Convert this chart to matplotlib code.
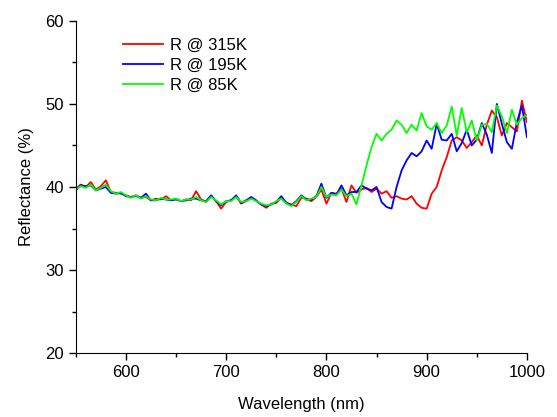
import matplotlib
matplotlib.use("Agg")
import matplotlib.pyplot as plt
from matplotlib.ticker import MultipleLocator
import numpy as np

plt.rcParams['font.family'] = ['Liberation Sans', 'DejaVu Sans']

# wavelength grid (nm), 5 nm steps
wavelength = np.arange(550, 1001, 5)

r_315k = [39.8, 40.3, 40.0, 40.6, 39.7, 40.1, 40.8, 39.4, 39.3, 39.2,
          39.0, 38.8, 39.0, 38.7, 38.8, 38.4, 38.6, 38.5, 38.9, 38.4,
          38.6, 38.3, 38.5, 38.4, 39.5, 38.5, 38.2, 38.9, 38.3, 37.4,
          38.2, 38.4, 38.9, 38.0, 38.3, 38.7, 38.3, 37.9, 37.5, 38.0,
          38.1, 38.7, 38.1, 37.9, 37.7, 38.7, 38.6, 38.3, 38.8, 39.7,
          38.0, 39.3, 39.2, 39.8, 38.2, 40.2, 39.3, 39.7, 39.9, 39.4,
          39.8, 39.2, 39.5, 38.7, 38.9, 38.6, 38.5, 38.9, 38.0, 37.5,
          37.4, 39.2, 40.0, 42.0, 43.6, 45.6, 46.0, 45.6, 44.7, 45.4,
          46.2, 45.0, 47.5, 49.2, 48.4, 46.2, 47.7, 47.2, 46.7, 50.4,
          47.8]

r_195k = [39.6, 40.2, 40.1, 40.2, 39.6, 39.8, 40.0, 39.3, 39.2, 39.3,
          38.9, 38.8, 38.9, 38.7, 39.2, 38.4, 38.4, 38.6, 38.5, 38.4,
          38.5, 38.3, 38.4, 38.6, 38.6, 38.4, 38.3, 39.0, 38.3, 37.8,
          38.3, 38.4, 39.0, 38.1, 38.4, 38.8, 38.4, 37.9, 37.7, 37.9,
          38.2, 38.9, 38.1, 37.8, 38.3, 39.0, 38.5, 38.5, 38.9, 40.4,
          38.7, 39.3, 39.1, 40.2, 39.0, 39.4, 39.4, 40.2, 39.8, 39.6,
          40.0, 38.2, 37.6, 37.4, 40.0, 42.0, 43.2, 44.1, 43.7, 44.3,
          45.6, 44.6, 47.6, 45.7, 45.6, 46.4, 44.3, 45.3, 46.9, 45.0,
          45.7, 47.7, 46.3, 44.1, 50.0, 47.6, 45.4, 44.6, 47.8, 49.8,
          46.0]

r_85k = [39.7, 40.1, 39.9, 40.3, 39.6, 39.9, 40.3, 39.5, 39.2, 39.4,
         39.0, 38.7, 39.0, 38.6, 38.9, 38.5, 38.4, 38.7, 38.5, 38.5,
         38.6, 38.3, 38.5, 38.5, 38.8, 38.4, 38.2, 38.8, 38.4, 37.9,
         38.3, 38.3, 38.8, 38.2, 38.3, 38.6, 38.3, 38.0, 37.8, 37.9,
         38.3, 38.6, 38.0, 37.7, 38.2, 38.9, 38.4, 38.6, 38.8, 40.0,
         38.8, 39.1, 39.0, 39.7, 38.9, 39.2, 37.9, 40.2, 42.6, 44.8,
         46.4, 45.6, 46.4, 46.9, 48.0, 47.5, 46.5, 47.5, 46.8, 48.9,
         47.3, 46.9, 47.7, 46.5, 47.4, 49.7, 46.2, 49.5, 46.6, 48.0,
         45.6, 47.5, 47.6, 46.6, 49.8, 48.5, 46.5, 49.3, 47.5, 48.3,
         48.7]

labels = ["R @ 315K", "R @ 195K", "R @ 85K"]
colors = ["#ff0000", "#0000ff", "#00ff00"]

fig = plt.figure(figsize=(5.57, 4.17), dpi=100)
ax = fig.add_axes([0.136, 0.153, 0.810, 0.797])

for series, lab, col in zip([r_315k, r_195k, r_85k], labels, colors):
    ax.plot(wavelength, series, color=col, lw=1.3, label=lab)

ax.set_xlim(550, 1000)
ax.set_ylim(20, 60)
ax.xaxis.set_major_locator(MultipleLocator(100))
ax.xaxis.set_minor_locator(MultipleLocator(50))
ax.yaxis.set_major_locator(MultipleLocator(10))
ax.yaxis.set_minor_locator(MultipleLocator(5))
ax.tick_params(which='major', direction='out', length=5, width=1, labelsize=12)
ax.tick_params(which='minor', direction='out', length=3, width=1)
for side in ['top', 'right']:
    ax.spines[side].set_visible(False)

ax.set_xlabel("Wavelength (nm)", fontsize=12, labelpad=12)
ax.set_ylabel("Reflectance (%)", fontsize=12, labelpad=8)

ax.legend(loc='upper left', bbox_to_anchor=(0.221, 0.909),
          bbox_transform=fig.transFigure, frameon=False, fontsize=12,
          handlelength=2.4, handletextpad=0.4, labelspacing=0.3,
          borderpad=0, borderaxespad=0)

fig.savefig("out.png", dpi=100)
